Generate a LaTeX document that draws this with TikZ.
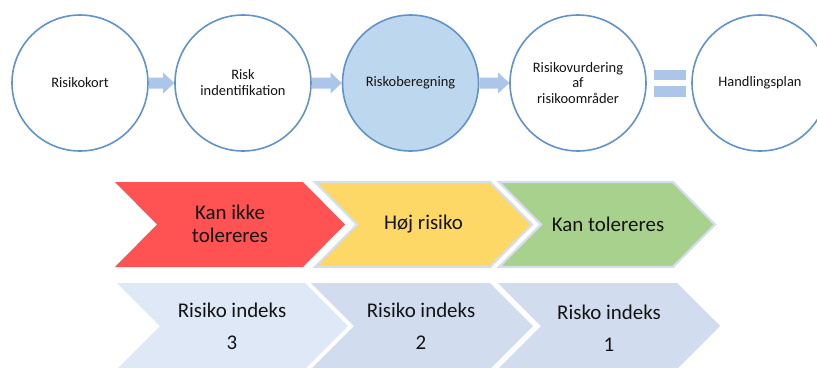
\documentclass[tikz,border=0pt]{standalone}
\usepackage{fontspec}
\setmainfont{Carlito}
\usetikzlibrary{calc}
\definecolor{cstroke}{RGB}{96,146,204}
\definecolor{cfill}{RGB}{189,215,238}
\definecolor{blkfill}{RGB}{172,198,233}
\definecolor{redfill}{RGB}{255,82,82}
\definecolor{yelfill}{RGB}{254,216,102}
\definecolor{grnfill}{RGB}{169,209,142}
\definecolor{chborder}{RGB}{211,222,239}
\definecolor{idxA}{RGB}{222,232,246}
\definecolor{idxB}{RGB}{209,220,239}
\definecolor{txt}{RGB}{20,20,20}
\tikzset{
  stepcircle/.style={circle, draw=cstroke, line width=1.6pt, fill=white, inner sep=0pt,
    minimum size=136bp, align=center, text=txt, font=\fontsize{14.5}{16}\selectfont},
  blk/.style={fill=blkfill},
  bigtext/.style={align=center, text=txt, font=\fontsize{21}{23}\selectfont},
  idxtext/.style={align=center, text=txt, font=\fontsize{21}{32}\selectfont},
}
\begin{document}
\begin{tikzpicture}[x=1bp,y=-1bp]
\useasboundingbox (0,0) rectangle (817,367);
% circles
\node[stepcircle] (c1) at (80,83) {Risikokort};
\node[stepcircle] (c2) at (243,83) {Risk\\indentifikation};
\node[stepcircle, fill=cfill] (c3) at (410.5,83) {Riskoberegning};
\node[stepcircle] (c4) at (578,83) {Risikovurdering\\af\\risikoområder};
\node[stepcircle] (c5) at (760,83) {Handlingsplan};
% block arrows
\foreach \a/\b in {c1/c2,c2/c3,c3/c4}{
  \fill[blk] ($(\a.east)+(0,-5.5)$) -- ($(\b.west)+(-11,-5.5)$) -- ($(\b.west)+(-11,-10.5)$)
    -- (\b.west) -- ($(\b.west)+(-11,10.5)$) -- ($(\b.west)+(-11,5.5)$)
    -- ($(\a.east)+(0,5.5)$) -- cycle;
}
% equals sign
\fill[blk] ($(c4.east)+(7,-13.5)$) rectangle ($(c5.west)+(-5,-3)$);
\fill[blk] ($(c4.east)+(7,3)$) rectangle ($(c5.west)+(-5,13.5)$);
% row 1 chevrons
\fill[redfill] (115,182) -- (303,182) -- (345,224.5) -- (303,267) -- (115,267) -- (157,224.5) -- cycle;
\filldraw[fill=yelfill, draw=chborder, line width=2.2bp, line join=miter]
  (315,182) -- (490,182) -- (532,224.5) -- (490,267) -- (315,267) -- (357,224.5) -- cycle;
\filldraw[fill=grnfill, draw=chborder, line width=2.2bp, line join=miter]
  (499,182) -- (673,182) -- (715,224.5) -- (673,267) -- (499,267) -- (541,224.5) -- cycle;
\node[bigtext] (t1) at (230,223.5) {Kan ikke\\tolereres};
\node[bigtext] (t2) at (423.5,224.5) {Høj risiko};
\node[bigtext] (t3) at (608,224.5) {Kan tolereres};
% row 2 chevrons
\fill[idxA] (117,283) -- (305,283) -- (348,326) -- (305,369) -- (117,369) -- (160,326) -- cycle;
\fill[idxB] (311,283) -- (490,283) -- (533,326) -- (490,369) -- (311,369) -- (354,326) -- cycle;
\fill[idxB] (498,283) -- (677,283) -- (720,326) -- (677,369) -- (498,369) -- (541,326) -- cycle;
\node[idxtext] (i1) at (232,326.5) {Risiko indeks\\3};
\node[idxtext] (i2) at (421,326.5) {Risiko indeks\\2};
\node[idxtext] (i3) at (609,328) {Risko indeks\\1};
\end{tikzpicture}
\end{document}
